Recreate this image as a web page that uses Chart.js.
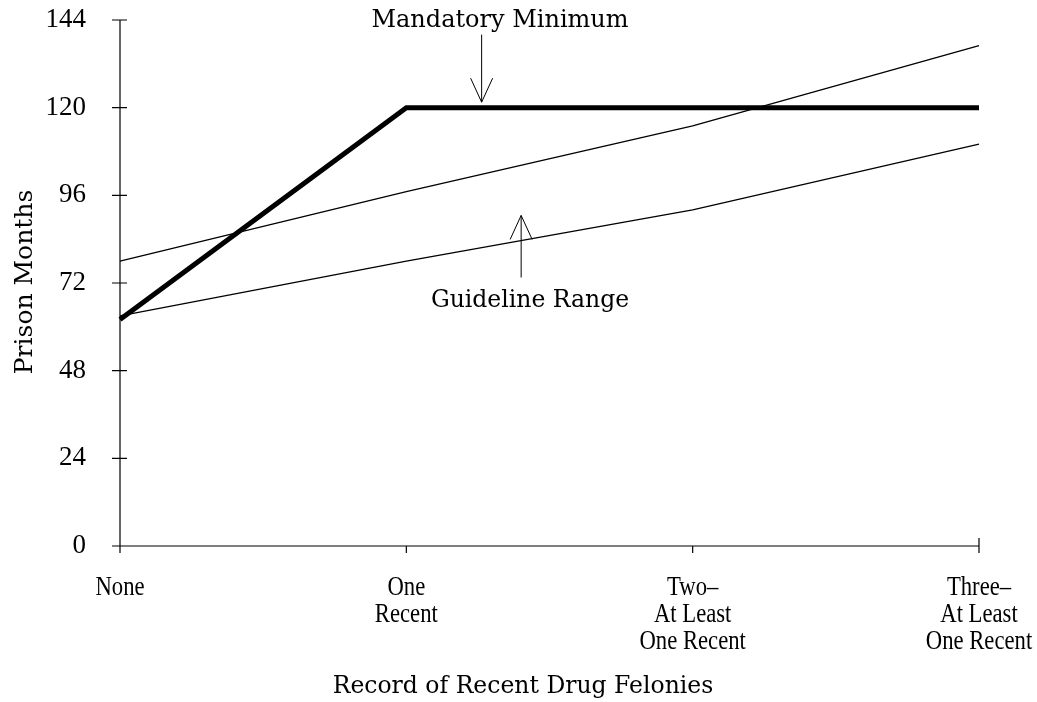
<!DOCTYPE html>
<html>
<head>
<meta charset="utf-8">
<script src="https://cdn.jsdelivr.net/npm/chart.js@4.4.4/dist/chart.umd.min.js"></script>
<style>
  html, body { margin: 0; padding: 0; background: #fff; }
</style>
</head>
<body>
<canvas id="chart" width="1037" height="702"></canvas>
<script>
// Record of recent drug felonies (x categories)
const categories = [
  ['None'],
  ['One', 'Recent'],
  ['Two\u2013', 'At Least', 'One Recent'],
  ['Three\u2013', 'At Least', 'One Recent']
];
const mandatoryMinimum = [62, 120, 120, 120];
const guidelineHigh = [78, 97, 115, 137];
const guidelineLow = [63, 78, 92, 110];
const yTicks = [0, 24, 48, 72, 96, 120, 144];

const serif = '"Liberation Serif", "Times New Roman", serif';
const wide = '"DejaVu Serif", serif';

// axes, tick marks, condensed x labels, titles and the two arrow notes
const decor = {
  id: 'decor',
  afterDraw(chart) {
    const ctx = chart.ctx;
    const x = chart.scales.x, y = chart.scales.y;
    const a = chart.chartArea;
    ctx.save();
    ctx.strokeStyle = '#000';
    ctx.lineWidth = 1.2;
    ctx.beginPath();
    ctx.moveTo(a.left, a.top);
    ctx.lineTo(a.left, a.bottom + 6);
    ctx.moveTo(a.left, a.bottom);
    ctx.lineTo(a.right, a.bottom);
    for (const v of yTicks) {
      const py = y.getPixelForValue(v);
      ctx.moveTo(a.left - 8, py);
      ctx.lineTo(a.left + 7, py);
    }
    categories.forEach((c, i) => {
      const px = x.getPixelForValue(i);
      ctx.moveTo(px, a.bottom - (i === 0 || i === categories.length - 1 ? 8 : 0));
      ctx.lineTo(px, a.bottom + 7);
    });
    ctx.stroke();

    // x category labels, narrow serif
    ctx.fillStyle = '#000';
    ctx.textAlign = 'center';
    ctx.textBaseline = 'alphabetic';
    ctx.font = '27px ' + serif;
    categories.forEach((lines, i) => {
      const px = x.getPixelForValue(i);
      lines.forEach((t, k) => {
        ctx.save();
        ctx.translate(px, a.bottom + 49 + k * 27);
        ctx.scale(0.84, 1);
        ctx.fillText(t, 0, 0);
        ctx.restore();
      });
    });

    // arrows
    const arrow = (px, y0, y1) => {
      const dir = y1 > y0 ? 1 : -1;
      ctx.beginPath();
      ctx.moveTo(px, y0);
      ctx.lineTo(px, y1);
      ctx.moveTo(px - 11, y1 - dir * 24);
      ctx.lineTo(px, y1);
      ctx.lineTo(px + 11, y1 - dir * 24);
      ctx.stroke();
    };
    ctx.lineWidth = 1;
    const mx = a.left + (a.right - a.left) * 0.421;
    arrow(mx, y.getPixelForValue(140), y.getPixelForValue(121.5));
    const gx = a.left + (a.right - a.left) * 0.467;
    arrow(gx, y.getPixelForValue(73.5), y.getPixelForValue(90.5));

    ctx.font = '24px ' + wide;
    ctx.fillText('Mandatory Minimum', 500, 27);
    ctx.font = '23.5px ' + wide;
    ctx.fillText('Guideline Range', 530, 307);

    // axis titles
    ctx.fillText('Record of Recent Drug Felonies', 523, 693);
    ctx.font = '25px ' + wide;
    ctx.translate(32, 282);
    ctx.rotate(-Math.PI / 2);
    ctx.fillText('Prison Months', 0, 0);
    ctx.restore();
  }
};

new Chart(document.getElementById('chart'), {
  type: 'line',
  data: {
    labels: categories,
    datasets: [
      { label: 'Mandatory Minimum', data: mandatoryMinimum, borderColor: '#000', borderWidth: 5, pointRadius: 0, tension: 0 },
      { label: 'Guideline High', data: guidelineHigh, borderColor: '#000', borderWidth: 1.3, pointRadius: 0, tension: 0 },
      { label: 'Guideline Low', data: guidelineLow, borderColor: '#000', borderWidth: 1.3, pointRadius: 0, tension: 0 }
    ]
  },
  plugins: [decor],
  options: {
    responsive: false,
    animation: false,
    devicePixelRatio: 1,
    layout: { padding: { left: 0, right: 58, top: 20, bottom: 0 } },
    plugins: { legend: { display: false }, tooltip: { enabled: false } },
    scales: {
      x: {
        offset: false,
        grid: { display: false, drawTicks: false },
        border: { display: false },
        ticks: { display: false },
        afterFit(s) { s.height = 156; s.paddingLeft = 0; s.paddingRight = 0; }
      },
      y: {
        min: 0, max: 144,
        grid: { display: false, drawTicks: false },
        border: { display: false },
        ticks: { color: '#000', padding: 34, stepSize: 24,
                 font: { family: serif, size: 27 } },
        afterFit(s) { s.width = 120; s.paddingTop = 0; s.paddingBottom = 0; }
      }
    }
  }
});
</script>
</body>
</html>
